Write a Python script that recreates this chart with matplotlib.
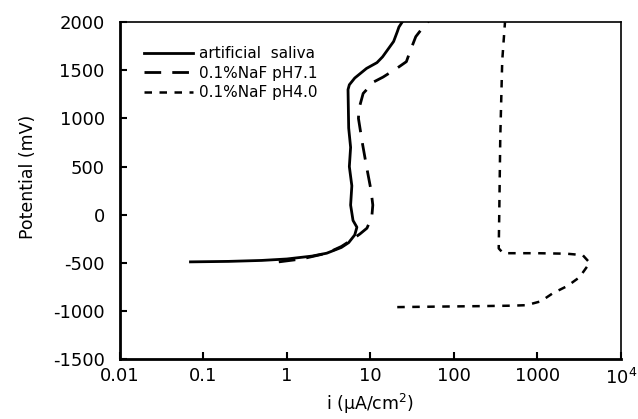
import matplotlib
matplotlib.use("Agg")
import matplotlib.pyplot as plt
import numpy as np

# current density (uA/cm2) and potential (mV)
saliva_i = [0.07, 0.2, 0.5, 1.0, 2.0, 3.0, 4.5, 5.5, 6.5, 6.9, 6.2, 5.8, 6.0, 5.6, 5.8, 5.5, 5.4, 5.6, 6.5, 9.0, 12.0, 14.0, 16.0, 19.0, 21.0, 22.0, 24.0]
saliva_v = [-490, -485, -475, -460, -430, -400, -340, -290, -210, -130, -60, 100, 300, 500, 700, 900, 1300, 1350, 1420, 1520, 1580, 1640, 1710, 1800, 1900, 1950, 2000]

naf71_i = [0.8, 1.5, 3.0, 4.5, 6.0, 7.5, 9.1, 10.4, 10.7, 10.2, 9.0, 8.0, 7.2, 7.3, 8.2, 11.0, 14.2, 20.7, 27.0, 30.0, 35.0, 43.0, 51.0]
naf71_v = [-490, -460, -400, -330, -260, -200, -140, -25, 100, 250, 500, 750, 1000, 1100, 1260, 1380, 1430, 1520, 1590, 1700, 1850, 1950, 2020]

naf40_i = [21, 60, 200, 500, 740, 1100, 1540, 2300, 3200, 4250, 3500, 2240, 1000, 390, 345, 350, 360, 380, 410]
naf40_v = [-960, -955, -950, -945, -940, -900, -815, -740, -650, -500, -420, -405, -400, -400, -350, 0, 800, 1600, 2000]

xticks = [0.01, 0.1, 1, 10, 100, 1000, 10000]
xtick_labels = ["0.01", "0.1", "1", "10", "100", "1000", "10$^4$"]
yticks = [-1500, -1000, -500, 0, 500, 1000, 1500, 2000]

plt.rcParams['font.family'] = ['DejaVu Sans']
plt.rcParams['axes.unicode_minus'] = False

fig = plt.figure(figsize=(6.38, 4.19), dpi=100)
ax = fig.add_axes([0.188, 0.143, 0.785, 0.804])

ax.plot(saliva_i, saliva_v, color="black", lw=2.0, label="artificial  saliva")
ax.plot(naf71_i, naf71_v, color="black", lw=2.0, dashes=(6, 4), label="0.1%NaF pH7.1")
ax.plot(naf40_i, naf40_v, color="black", lw=1.8, dashes=(3, 3), label="0.1%NaF pH4.0")

ax.set_xscale("log")
ax.set_xlim(0.01, 10000)
ax.set_ylim(-1500, 2000)
ax.set_xticks(xticks)
ax.set_xticklabels(xtick_labels)
ax.set_yticks(yticks)
ax.minorticks_off()
ax.tick_params(direction="in", length=5, width=1.5, labelsize=13, top=False, right=False)
ax.tick_params(axis="x", pad=6)
ax.tick_params(axis="y", pad=11)

for side in ["left", "bottom"]:
    ax.spines[side].set_linewidth(2)
for side in ["top", "right"]:
    ax.spines[side].set_linewidth(1.2)

ax.set_xlabel("i (\u03bcA/cm$^2$)", fontsize=12.5, labelpad=3)
ax.set_ylabel("Potential (mV)", fontsize=12.5)
ax.yaxis.set_label_coords(-0.165, 0.54)

ax.legend(loc="upper left", bbox_to_anchor=(0.02, 0.97), frameon=False,
          fontsize=11, handlelength=3.2, handletextpad=0.4, labelspacing=0.3)

fig.savefig("out.png", dpi=100)
